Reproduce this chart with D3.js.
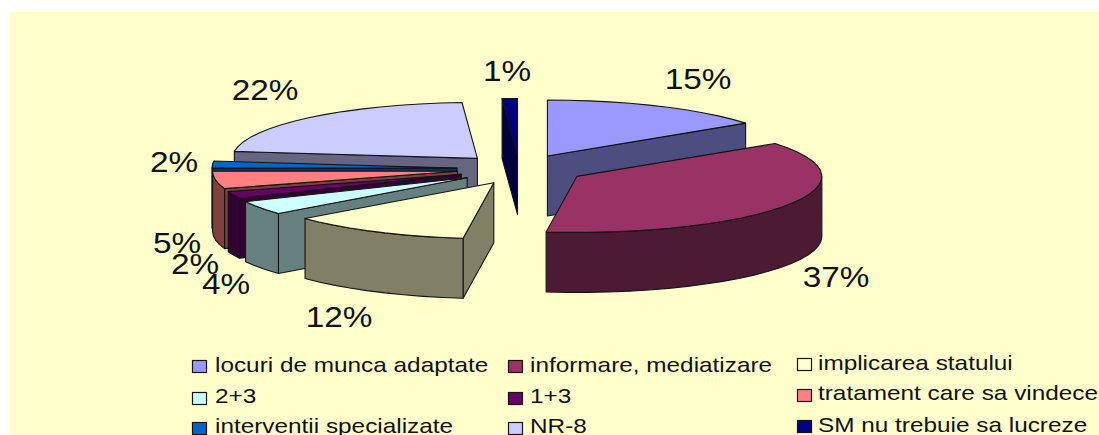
<!DOCTYPE html>
<html>
<head>
<meta charset="utf-8">
<script src="https://cdn.jsdelivr.net/npm/d3@7/dist/d3.min.js"></script>
<style>
html, body { margin: 0; padding: 0; background: #fff; }
svg { display: block; }
text { font-family: "Liberation Sans", Arial, sans-serif; fill: #111; }
</style>
</head>
<body>
<script>
// Survey answers, in slice order
const categories = ["locuri de munca adaptate", "informare, mediatizare", "implicarea statului",
  "2+3", "1+3", "tratament care sa vindece", "interventii specializate", "NR-8", "SM nu trebuie sa lucreze"];
const shares = [15, 37, 12, 4, 2, 5, 2, 22, 1];
const topColors = ["#9999FF", "#993366", "#FFFFCC", "#CCFFFF", "#660066", "#FF8080", "#0066CC", "#CCCCFF", "#000080"];
const sideColors = ["#4D4D80", "#4D1A33", "#808066", "#668080", "#330033", "#804040", "#003366", "#666680", "#000040"];

// Layout of the percentage labels (centre x, baseline y) and of the legend
const labelAnchors = [[698, 89], [836, 287], [339, 327], [226, 294], [195, 274], [177, 253], [174, 172], [265, 100], [507, 81]];
const legendColumns = [
  { swatch: 192, text: 215, rows: [[360, 372], [392, 403], [422, 433]] },
  { swatch: 508, text: 530, rows: [[360, 372], [392, 403], [422, 433]] },
  { swatch: 797, text: 818, rows: [[358, 370], [389, 400], [420, 432]] }
];
const legendOrder = [[0, 1, 2], [3, 4, 5], [6, 7, 8]];
// Small per-slice shifts of the pulled-out pieces, in pixels
const sliceShiftX = [-2, 1.5, 4, 0.5, 0, 0, 0, 0.5, -1];
const sliceShiftY = [0, 0, 1, 1, 0, 0, 0, 0, 0];

const width = 1099, height = 435;
const cx = 520.5, cy = 169, rx = 245, ry = 56, depth = 60, explode = 0.26;
const ink = "#141414";

const svg = d3.select("body").append("svg").attr("width", width).attr("height", height);
const defs = svg.append("defs");
defs.append("clipPath").attr("id", "frame").append("rect")
  .attr("x", 10).attr("y", 12).attr("width", width - 10).attr("height", height - 12);

const frame = svg.append("g").attr("clip-path", "url(#frame)");
frame.append("rect").attr("x", 10).attr("y", 12).attr("width", width - 10).attr("height", height - 12).attr("fill", "#FFFFCC");

const xScale = d3.scaleLinear().domain([-1, 1]).range([cx - rx, cx + rx]);
const yScale = d3.scaleLinear().domain([-1, 1]).range([cy - ry, cy + ry]);

// Clockwise from twelve o'clock, keeping the answers in their given order
const arcs = d3.pie().sort(null).value(d => d)(shares);

const line = d3.line();
const sampleAngles = (a0, a1) => {
  const n = Math.max(1, Math.ceil((a1 - a0) / (Math.PI / 36)));
  return d3.range(n + 1).map(i => a0 + (a1 - a0) * i / n);
};

function sliceGeometry(arc, i) {
  const mid = (arc.startAngle + arc.endAngle) / 2;
  const ox = explode * Math.sin(mid), oy = -explode * Math.cos(mid);
  const place = (u, v) => [xScale(u) + sliceShiftX[i], yScale(v) + sliceShiftY[i]];
  const apex = place(ox, oy);
  const rim = a => place(ox + Math.sin(a), oy - Math.cos(a));
  return { apex, rim };
}

const drop = ([x, y]) => [x, y + depth];
const pie3d = frame.append("g");

// Back-to-front so that nearer slices overlap the farther ones
const paintOrder = [0, 1, 8, 7, 6, 5, 4, 3, 2];

paintOrder.forEach(i => {
  const arc = arcs[i];
  const { apex, rim } = sliceGeometry(arc, i);
  const g = pie3d.append("g");
  const face = (pts, fill) => g.append("path")
    .attr("d", line(pts) + "Z").attr("fill", fill)
    .attr("stroke", ink).attr("stroke-width", 1.1).attr("stroke-linejoin", "round");

  // A cut face shows when the extrusion points away from the slice's top surface
  const interior = rim((arc.startAngle + arc.endAngle) / 2);
  [arc.startAngle, arc.endAngle].forEach(a => {
    const end = rim(a);
    const dx = end[0] - apex[0], dy = end[1] - apex[1];
    const nx = dy, ny = -dx;
    const sideDepth = ny * depth;
    const sideInner = nx * (interior[0] - apex[0]) + ny * (interior[1] - apex[1]);
    if (Math.abs(sideDepth) > 1e-6 && sideDepth * sideInner < 0) {
      face([apex, end, drop(end), drop(apex)], sideColors[i]);
    }
  });

  // Outer wall: only the front half of the rim faces the viewer
  const w0 = Math.max(arc.startAngle, Math.PI / 2), w1 = Math.min(arc.endAngle, Math.PI * 3 / 2);
  if (w1 > w0) {
    const upper = sampleAngles(w0, w1).map(rim);
    face(upper.concat(upper.map(drop).reverse()), sideColors[i]);
  }

  // Top surface
  face([apex].concat(sampleAngles(arc.startAngle, arc.endAngle).map(rim)), topColors[i]);
});

// Percentage labels
frame.append("g").selectAll("text").data(shares).join("text")
  .attr("transform", (d, i) => `translate(${labelAnchors[i][0]},${labelAnchors[i][1]}) scale(1.15,1)`)
  .attr("text-anchor", "middle").attr("font-size", 29)
  .text(d => d + "%");

// Legend, three columns by three rows
const legend = frame.append("g");
legendColumns.forEach((col, c) => {
  col.rows.forEach((row, r) => {
    const k = legendOrder[r][c];
    legend.append("rect").attr("x", col.swatch + 0.5).attr("y", row[0] + 0.5)
      .attr("width", 14).attr("height", 12).attr("fill", topColors[k])
      .attr("stroke", ink).attr("stroke-width", 1.2);
    legend.append("text").attr("transform", `translate(${col.text},${row[1]}) scale(1.218,1)`)
      .attr("font-size", 20).text(categories[k]);
  });
});
</script>
</body>
</html>
